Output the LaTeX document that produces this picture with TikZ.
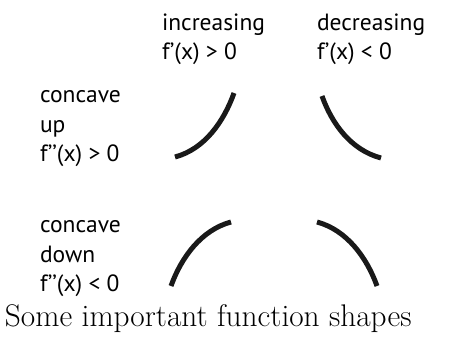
\documentclass[tikz,border=0pt]{standalone}
\usepackage{fontspec}
\newfontfamily\labelfont{PT Sans}
\begin{document}
\begin{tikzpicture}[x=1pt,y=-1pt,
  lbl/.style={anchor=base west,inner sep=0pt,outer sep=0pt},
  curvestroke/.style={line width=5pt,line cap=butt,black!90}]
\useasboundingbox (0,0) rectangle (456,337);
\newcommand{\lblbox}[1]{\parbox[t]{150pt}{\raggedright\labelfont\fontsize{23.5}{29.3}\selectfont #1}}
\node[lbl] (incr) at (162,30.7) {\lblbox{increasing\\f’(x) > 0}};
\node[lbl] (decr) at (317,30.7) {\lblbox{decreasing\\f’(x) < 0}};
\node[lbl] (cup) at (40,103) {\lblbox{concave\\up\\f’’(x) > 0}};
\node[lbl] (cdown) at (40,233) {\lblbox{concave\\down\\f’’(x) < 0}};
% shapes
\draw[curvestroke] (175,157) .. controls (205,149) and (224,121) .. (234,93);
\draw[curvestroke] (322,96) .. controls (332,124) and (351,150) .. (381,158);
\draw[curvestroke] (171,286) .. controls (181,258) and (201,230) .. (231,222);
\draw[curvestroke] (317,222) .. controls (347,230) and (367,258) .. (377,286);
\node[lbl] (caption) at (5,326) {\fontsize{31.3}{36}\selectfont Some important function shapes};
\end{tikzpicture}
\end{document}
